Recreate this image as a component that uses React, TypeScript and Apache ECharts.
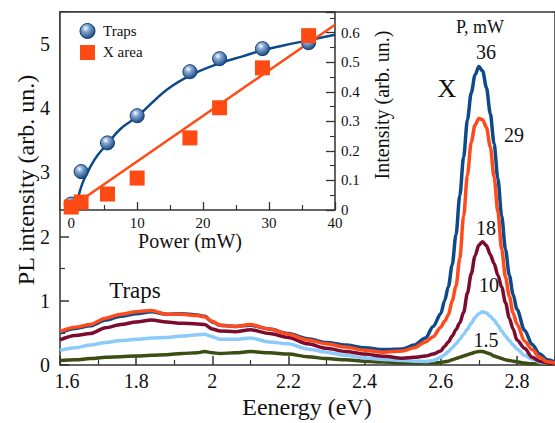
import React, { useEffect, useRef } from 'react';
import * as echarts from 'echarts';

// ---------- Main spectra (PL intensity vs energy) ----------
const energy = [
  1.6, 1.64, 1.68, 1.72, 1.76, 1.8, 1.84, 1.88, 1.92, 1.96,
  1.98, 2.0, 2.02, 2.06, 2.1, 2.15, 2.2, 2.25, 2.3, 2.35,
  2.4, 2.45, 2.5, 2.53, 2.56, 2.58, 2.6,
  2.61, 2.62, 2.63, 2.64, 2.65, 2.66, 2.67, 2.68, 2.69, 2.7,
  2.71, 2.72, 2.73, 2.74, 2.75, 2.76, 2.77, 2.78, 2.79, 2.8,
  2.82, 2.84, 2.86, 2.88, 2.9,
];

const pl36 = [
  0.50, 0.57, 0.61, 0.70, 0.76, 0.80, 0.83, 0.79, 0.80, 0.78,
  0.76, 0.67, 0.62, 0.60, 0.62, 0.56, 0.49, 0.41, 0.35, 0.31,
  0.27, 0.24, 0.25, 0.31, 0.42, 0.60, 0.80,
  1.00, 1.22, 1.56, 2.03, 2.64, 3.24, 3.82, 4.24, 4.52, 4.65,
  4.58, 4.32, 3.92, 3.45, 2.90, 2.32, 1.80, 1.40, 1.10, 0.87,
  0.54, 0.32, 0.17, 0.08, 0.04,
];

const pl29 = [
  0.52, 0.59, 0.63, 0.73, 0.79, 0.83, 0.85, 0.79, 0.79, 0.77,
  0.75, 0.68, 0.62, 0.60, 0.63, 0.56, 0.48, 0.39, 0.33, 0.28,
  0.23, 0.20, 0.22, 0.27, 0.36, 0.44, 0.59,
  0.68, 0.78, 1.00, 1.23, 1.66, 2.32, 2.96, 3.47, 3.74, 3.84,
  3.82, 3.70, 3.40, 2.93, 2.38, 1.80, 1.37, 1.07, 0.81, 0.64,
  0.37, 0.24, 0.12, 0.05, 0.03,
];

const pl18 = [
  0.39, 0.46, 0.49, 0.58, 0.63, 0.67, 0.70, 0.67, 0.65, 0.64,
  0.63, 0.56, 0.53, 0.52, 0.55, 0.49, 0.43, 0.33, 0.26, 0.21,
  0.17, 0.135, 0.105, 0.12, 0.14, 0.17, 0.22,
  0.29, 0.36, 0.45, 0.55, 0.66, 0.82, 1.12, 1.42, 1.70, 1.87,
  1.92, 1.86, 1.72, 1.58, 1.40, 1.21, 0.97, 0.73, 0.56, 0.39,
  0.26, 0.12, 0.06, 0.03, 0.02,
];

const pl10 = [
  0.23, 0.27, 0.31, 0.35, 0.38, 0.40, 0.42, 0.43, 0.45, 0.47,
  0.48, 0.44, 0.40, 0.40, 0.42, 0.36, 0.33, 0.25, 0.20, 0.15,
  0.11, 0.085, 0.07, 0.06, 0.055, 0.07, 0.12,
  0.16, 0.21, 0.27, 0.33, 0.40, 0.48, 0.56, 0.65, 0.74, 0.80,
  0.83, 0.81, 0.76, 0.70, 0.62, 0.53, 0.45, 0.38, 0.31, 0.25,
  0.15, 0.09, 0.04, 0.03, 0.02,
];

const pl1_5 = [
  0.07, 0.08, 0.10, 0.12, 0.13, 0.14, 0.15, 0.16, 0.18, 0.19,
  0.21, 0.19, 0.18, 0.19, 0.21, 0.19, 0.17, 0.13, 0.10, 0.08,
  0.06, 0.045, 0.035, 0.03, 0.03, 0.03, 0.04,
  0.05, 0.06, 0.08, 0.10, 0.12, 0.14, 0.16, 0.18, 0.20, 0.21,
  0.21, 0.19, 0.17, 0.14, 0.12, 0.10, 0.08, 0.07, 0.06, 0.05,
  0.03, 0.02, 0.02, 0.01, 0.01,
];

const spectraLabels = ['36', '29', '18', '10', '1.5'];

// ---------- Inset (integrated intensity vs power) ----------
const power = [0, 1.5, 5.5, 10, 18, 22.5, 29, 36];
const trapsIntensity = [0.02, 0.13, 0.227, 0.319, 0.468, 0.512, 0.546, 0.566];
const xAreaIntensity = [0.01, 0.027, 0.054, 0.108, 0.244, 0.346, 0.481, 0.59];

const trapsFitPower = [0.45, 1, 1.8, 3, 4, 5.6, 7.5, 10, 14.5, 18.3, 22.6, 26, 28.9, 32, 35.9, 40];
const trapsFitValue = [0, 0.04, 0.096, 0.15, 0.185, 0.227, 0.275, 0.316, 0.407, 0.458, 0.497, 0.52, 0.54, 0.556, 0.574, 0.593];

const xFitPower = [0, 40];
const xFitValue = [0.01, 0.627];

const insetPowerTicks = [0, 10, 20, 30, 40];
const insetPowerMinorTicks = [5, 15, 25, 35];

// ---------- styles ----------
const FONT = 'Liberation Serif';
const INK = '#111';
const AXIS = '#333';
const C36 = '#0c4a8a';
const C29 = '#ff4a1c';
const C18 = '#7c0b2e';
const C10 = '#8ccafa';
const C1_5 = '#3c4d14';
const ORANGE = '#ff4a14';

const sphereFill = {
  type: 'radial', x: 0.38, y: 0.32, r: 0.75,
  colorStops: [
    { offset: 0, color: '#ffffff' },
    { offset: 0.3, color: '#89aad4' },
    { offset: 1, color: '#0b3c78' },
  ],
};

const pairs = (xs: number[], ys: number[]) => xs.map((x, i) => [x, ys[i]]);

export default function App() {
  const ref = useRef<HTMLDivElement>(null);

  useEffect(() => {
    if (!ref.current) return;
    const chart = echarts.init(ref.current, null, { renderer: 'svg' });

    const mainLine = (name: string, data: number[], color: string) => ({
      type: 'line', name, xAxisIndex: 0, yAxisIndex: 0, z: 2,
      data: pairs(energy, data), showSymbol: false, symbol: 'none',
      smooth: 0.3, smoothMonotone: 'x',
      lineStyle: { color, width: 3.5 },
    });

    const text = (t: string, x: number, y: number, size: number, extra: any = {}) => ({
      type: 'text', x, y, z: 100, ...extra,
      style: {
        text: t, fontSize: size, fontFamily: FONT, fill: INK,
        align: 'center', verticalAlign: 'middle', ...(extra.style || {}),
      },
    });

    const option: any = {
      animation: false,
      backgroundColor: '#fff',
      textStyle: { fontFamily: FONT },
      grid: [
        { left: 60, top: 12, width: 500, height: 353, show: true, z: 0,
          borderColor: AXIS, borderWidth: 1.5, backgroundColor: 'transparent' },
        { left: 60, top: 12, width: 275, height: 198, show: true, z: 5,
          borderColor: AXIS, borderWidth: 1.5, backgroundColor: '#fff' },
      ],
      xAxis: [
        {
          type: 'value', gridIndex: 0, min: 1.6, max: 2.9, interval: 0.2, z: 1,
          axisLine: { show: false },
          axisTick: { show: true, inside: true, length: 9, lineStyle: { color: AXIS, width: 1.5 } },
          minorTick: { show: true, splitNumber: 2, length: 5, lineStyle: { color: AXIS, width: 1.2 } },
          splitLine: { show: false },
          axisLabel: {
            fontSize: 20, fontFamily: FONT, color: INK, margin: 6, showMaxLabel: false,
            formatter: (v: number) => {
              const s = String(Number(v.toFixed(1)));
              return Math.abs(v - 1.6) < 1e-6 ? '{a|' + s + '}' : s;
            },
            rich: { a: { fontSize: 20, fontFamily: FONT, color: INK, padding: [0, 0, 0, 14] } },
          },
        },
        {
          type: 'value', gridIndex: 1, min: -1.7, max: 40, position: 'bottom', z: 6,
          axisLine: { show: false, onZero: false },
          axisTick: { show: true, inside: true, length: 8, customValues: insetPowerTicks,
            lineStyle: { color: AXIS, width: 1.3 } },
          splitLine: { show: false },
          axisLabel: { customValues: insetPowerTicks, fontSize: 15, fontFamily: FONT, color: INK, margin: 5 },
        },
        {
          type: 'value', gridIndex: 1, min: -1.7, max: 40, position: 'bottom', z: 6,
          axisLine: { show: false, onZero: false },
          axisTick: { show: true, inside: true, length: 5, customValues: insetPowerMinorTicks,
            lineStyle: { color: AXIS, width: 1.2 } },
          splitLine: { show: false },
          axisLabel: { show: false },
        },
      ],
      yAxis: [
        {
          type: 'value', gridIndex: 0, min: 0, max: 5.5, interval: 1, z: 1,
          axisLine: { show: false },
          axisTick: { show: true, inside: true, length: 9, lineStyle: { color: AXIS, width: 1.5 } },
          minorTick: { show: true, splitNumber: 2, length: 5, lineStyle: { color: AXIS, width: 1.2 } },
          splitLine: { show: false },
          axisLabel: { fontSize: 20, fontFamily: FONT, color: INK, margin: 10, showMaxLabel: false },
        },
        {
          type: 'value', gridIndex: 1, min: 0, max: 0.67, interval: 0.1, position: 'right', z: 6,
          axisLine: { show: false, onZero: false },
          axisTick: { show: true, inside: true, length: 9, lineStyle: { color: AXIS, width: 1.3 } },
          minorTick: { show: true, splitNumber: 2, length: 5, lineStyle: { color: AXIS, width: 1.1 } },
          splitLine: { show: false },
          axisLabel: {
            fontSize: 15, fontFamily: FONT, color: INK, margin: 6, showMaxLabel: false,
            formatter: (v: number) => (v === 0 ? '0' : v.toFixed(1)),
          },
        },
      ],
      series: [
        mainLine('1.5', pl1_5, C1_5),
        mainLine('10', pl10, C10),
        mainLine('18', pl18, C18),
        mainLine('36', pl36, C36),
        mainLine('29', pl29, C29),
        {
          type: 'line', name: 'Traps fit', xAxisIndex: 1, yAxisIndex: 1, z: 10,
          data: pairs(trapsFitPower, trapsFitValue), showSymbol: false, symbol: 'none',
          smooth: 0.4, lineStyle: { color: C36, width: 2.5 },
        },
        {
          type: 'line', name: 'X area fit', xAxisIndex: 1, yAxisIndex: 1, z: 10,
          data: pairs(xFitPower, xFitValue), showSymbol: false, symbol: 'none',
          lineStyle: { color: ORANGE, width: 2.5 },
        },
        {
          type: 'scatter', name: 'Traps', xAxisIndex: 1, yAxisIndex: 1, z: 11,
          data: pairs(power, trapsIntensity), symbol: 'circle', symbolSize: 14,
          itemStyle: { color: sphereFill, borderColor: '#0b3c78', borderWidth: 1, opacity: 1 },
        },
        {
          type: 'scatter', name: 'X area', xAxisIndex: 1, yAxisIndex: 1, z: 12,
          data: pairs(power, xAreaIntensity), symbol: 'rect', symbolSize: 15,
          itemStyle: { color: ORANGE, opacity: 1 },
        },
      ],
      graphic: [
        text('PL intensity (arb. un.)', 26, 180, 24, { rotation: Math.PI / 2 }),
        text('Eenergy (eV)', 307, 407, 24),
        text('Power (mW)', 190, 241, 20),
        text('Intensity (arb. un.)', 382, 105, 20, { rotation: Math.PI / 2 }),
        { type: 'circle', z: 100, shape: { cx: 87.5, cy: 31, r: 7.5 },
          style: { fill: sphereFill, stroke: '#0b3c78', lineWidth: 1 } },
        text('Traps', 103, 31, 15, { style: { align: 'left' } }),
        { type: 'rect', z: 100, shape: { x: 80, y: 45, width: 15, height: 15 }, style: { fill: ORANGE } },
        text('X area', 103, 52, 15, { style: { align: 'left' } }),
        text('P, mW', 480, 27, 18),
        text(spectraLabels[0], 486, 52, 20),
        text('X', 447, 88, 26),
        text(spectraLabels[1], 514, 135, 20),
        text(spectraLabels[2], 486, 228, 20),
        text(spectraLabels[3], 489, 285, 20),
        text(spectraLabels[4], 486, 340, 20),
        text('Traps', 135, 290, 23),
      ],
    };

    chart.setOption(option);
    return () => chart.dispose();
  }, []);

  return <div ref={ref} style={{ width: 555, height: 423, position: 'absolute', left: 0, top: 0 }} />;
}
